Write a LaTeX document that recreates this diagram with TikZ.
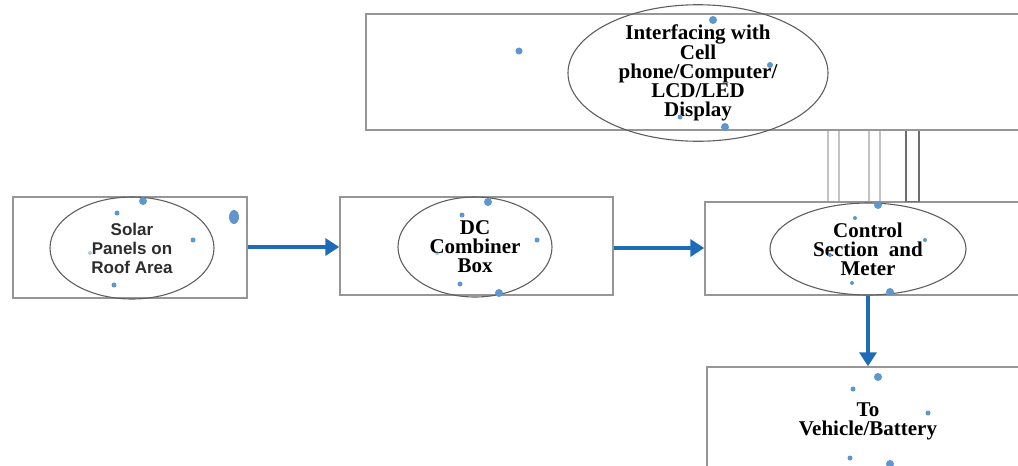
\documentclass[tikz,border=0pt]{standalone}
\usepackage{fontspec}
\setmainfont{Liberation Serif}
\newfontfamily\arialf{Liberation Sans}
\usetikzlibrary{shapes.geometric,arrows.meta,calc}
\definecolor{boxgray}{RGB}{150,150,150}
\definecolor{ellgray}{RGB}{95,95,95}
\definecolor{arrowblue}{RGB}{30,108,184}
\definecolor{dotblue}{RGB}{95,150,205}
\definecolor{linegray}{RGB}{195,195,195}
\definecolor{darkline}{RGB}{110,110,110}
\definecolor{solartext}{RGB}{45,45,45}
\tikzset{
  boxnode/.style={draw=boxgray, line width=1.4pt, rectangle, inner sep=0pt},
  ellnode/.style={draw=ellgray, line width=1.1pt, ellipse, inner sep=0pt, align=center,
    font=\bfseries\fontsize{21}{19}\selectfont},
  flow/.style={draw=arrowblue, line width=3.6pt, -{Triangle[length=14pt,width=17pt]}},
  thinlink/.style={draw=linegray, line width=1.1pt},
  darklink/.style={draw=darkline, line width=1.1pt},
  dot/.style={fill=dotblue},
}
\begin{document}
\begin{tikzpicture}[x=1pt,y=-1pt]
\useasboundingbox (0,0) rectangle (1018,466);
\clip (0,0) rectangle (1018,466);
% boxes
\node[boxnode, minimum width=234pt, minimum height=101pt] (solarbox) at (130,247.5) {};
\node[boxnode, minimum width=273pt, minimum height=98pt] (dcbox) at (476.5,246) {};
\node[boxnode, minimum width=340pt, minimum height=93pt] (ctlbox) at (875,248.5) {};
\node[boxnode, minimum width=340pt, minimum height=130pt] (vehbox) at (877,432) {};
\node[boxnode, minimum width=680pt, minimum height=116pt] (topbox) at (706,72) {};
% ellipses
\node[ellnode, minimum width=164pt, minimum height=102pt, text=solartext,
  font=\arialf\bfseries\fontsize{17}{19}\selectfont] (solar) at (132,248) {Solar\\Panels on\\Roof Area};
\node[ellnode, minimum width=154pt, minimum height=100pt] (dc) at (475,247) {DC\\Combiner\\Box};
\node[ellnode, minimum width=196pt, minimum height=92pt] (ctl) at (868,249) {Control\\Section~~and\\Meter};
\node[ellnode, minimum width=260pt, minimum height=116pt] (iface) at (698,73)
  {Interfacing with\\Cell\\phone/Computer/\\LCD/LED\\Display};
\node[align=center, font=\bfseries\fontsize{21}{19}\selectfont] (veh) at (868,421) {To\\Vehicle/Battery};
% link lines between interface box and control box
\coordinate (l1) at (828,0);
\coordinate (l2) at (839,0);
\coordinate (l3) at (869,0);
\coordinate (l4) at (880,0);
\coordinate (l5) at (906,0);
\coordinate (l6) at (919,0);
\draw[thinlink] (topbox.south -| l1) -- (ctlbox.north -| l1);
\draw[thinlink] (topbox.south -| l2) -- (ctlbox.north -| l2);
\draw[thinlink] (topbox.south -| l3) -- (ctlbox.north -| l3);
\draw[thinlink] (topbox.south -| l4) -- (ctlbox.north -| l4);
\draw[darklink] (topbox.south -| l5) -- (ctlbox.north -| l5) -- (ctlbox.north -| l6) -- (topbox.south -| l6);
% flow arrows
\draw[flow] (solarbox.east |- 0,247) -- (dcbox.west |- 0,247);
\draw[flow] (dcbox.east |- 0,248) -- (ctlbox.west |- 0,248);
\draw[flow] (ctlbox.south -| ctl) -- (vehbox.north -| ctl);
% blue dots
\fill[dot] (713,20) circle (4pt);
\fill[dot] (519,51) circle (3.5pt);
\fill[dot] (770,65) circle (3pt);
\fill[dot] (680,117) circle (2.5pt);
\fill[dot] (725,127) circle (4pt);
\fill[dot] (143,201) circle (4pt);
\fill[dot] (117,213) circle (2.5pt);
\fill[dot] (193,240) circle (2.5pt);
\fill[dot, opacity=0.5] (90,253) circle (2pt);
\fill[dot] (114,285) circle (2.5pt);
\fill[dot] (234,217) ellipse (5pt and 7pt);
\fill[dot] (488,202) circle (4pt);
\fill[dot] (462,215) circle (2.5pt);
\fill[dot] (537,240) circle (2.5pt);
\fill[dot, opacity=0.5] (437,253) circle (2pt);
\fill[dot] (460,284) circle (2.5pt);
\fill[dot] (499,293) circle (4pt);
\fill[dot] (878,205) circle (4pt);
\fill[dot] (855,218) circle (2pt);
\fill[dot] (925,240) circle (2pt);
\fill[dot] (830,255) circle (2pt);
\fill[dot] (852,283) circle (2pt);
\fill[dot] (890,292) circle (4pt);
\fill[dot] (878,377) circle (4pt);
\fill[dot] (853,389) circle (2.5pt);
\fill[dot] (928,413) circle (2.5pt);
\fill[dot] (850,458) circle (2.5pt);
\fill[dot] (890,464) circle (4pt);
\end{tikzpicture}
\end{document}
